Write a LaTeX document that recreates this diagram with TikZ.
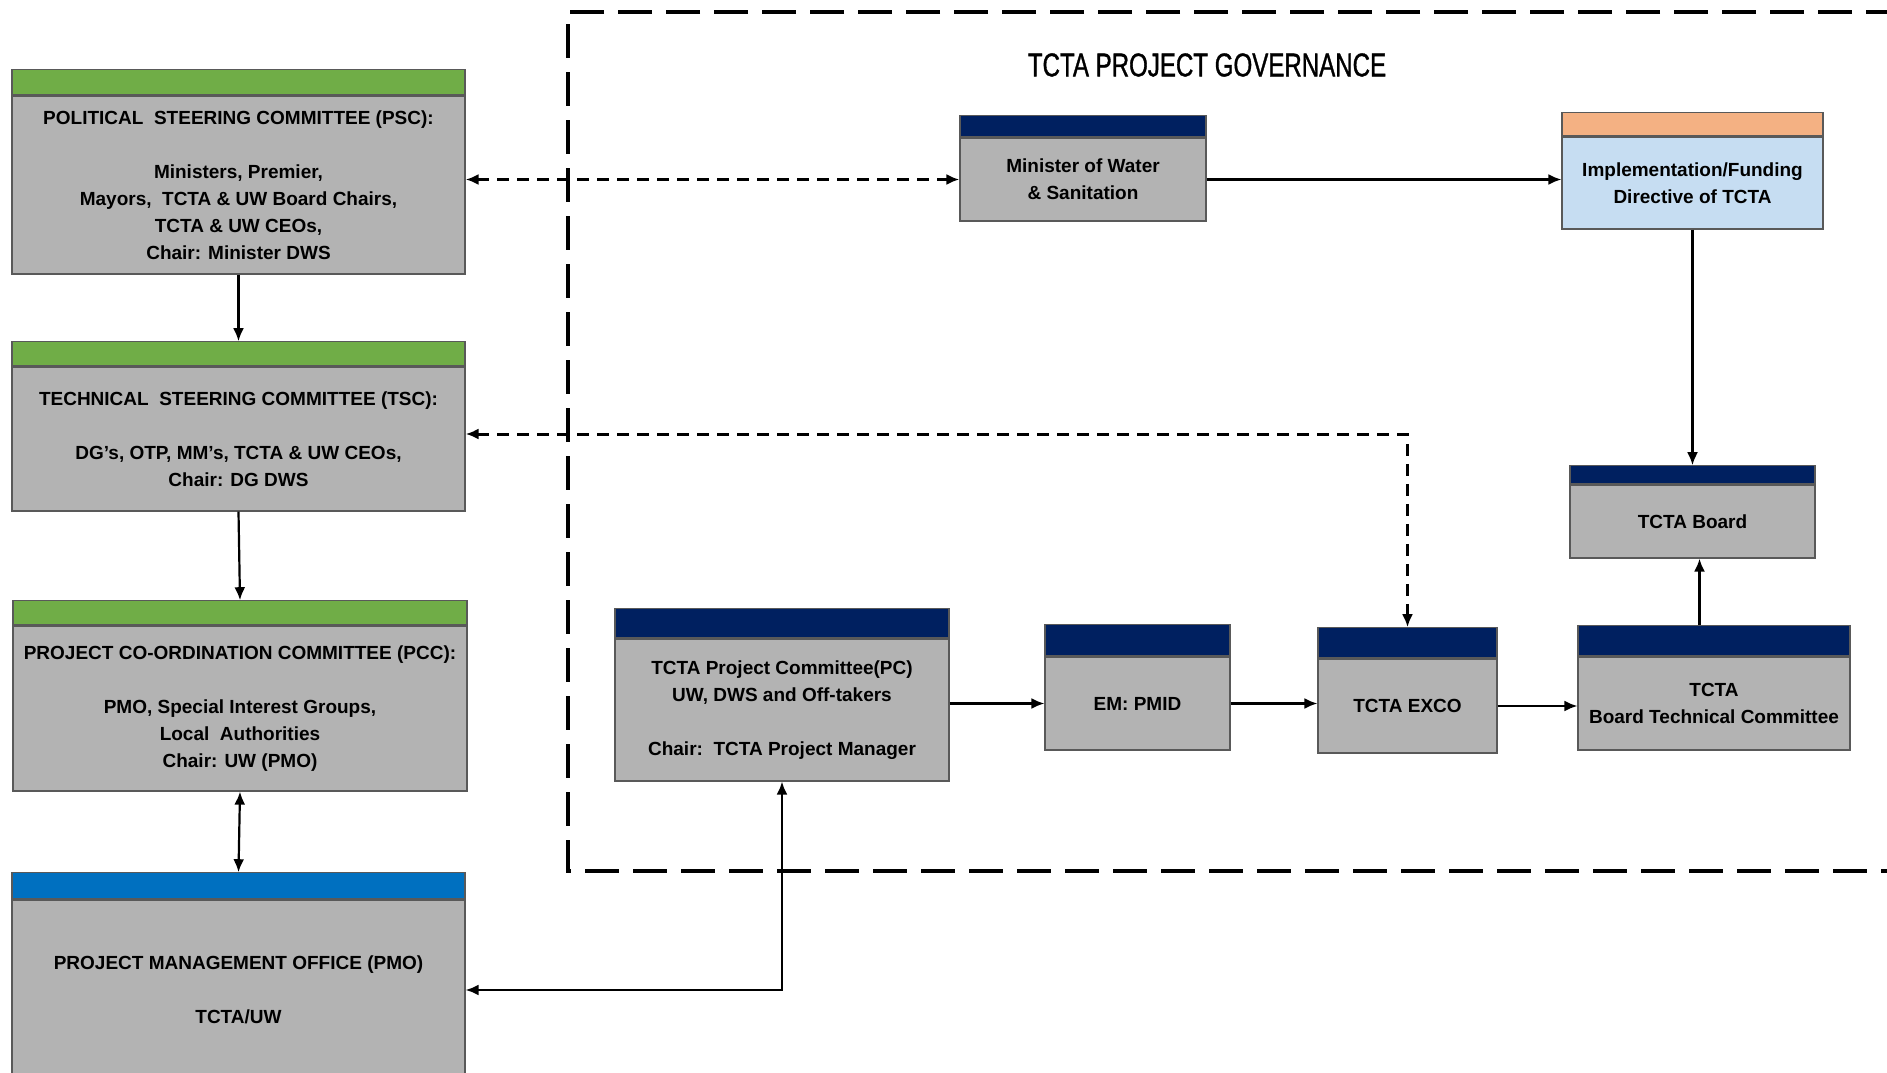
\documentclass[tikz,border=0pt]{standalone}
\usepackage{fontspec}
\setmainfont{Liberation Sans}
\newfontfamily\titlefont[FakeStretch=0.73,FakeBold=1]{Liberation Sans}
\usetikzlibrary{positioning,arrows.meta}
\definecolor{boxgray}{HTML}{B3B3B3}
\definecolor{barGreen}{HTML}{70AD47}
\definecolor{barNavy}{HTML}{002060}
\definecolor{barBlue}{HTML}{0070C0}
\definecolor{barOrange}{HTML}{F4B183}
\definecolor{implBlue}{HTML}{C6DDF2}

\tikzset{
	box/.style={draw=black!65, line width=1.2pt, fill=boxgray, align=center, inner sep=0pt,
		font=\fontsize{19}{27}\selectfont\bfseries},
	bar/.style={draw=black!65, line width=1.2pt, inner sep=0pt},
	link/.style={line width=2.2pt, -{Latex[length=13pt,width=11pt]}},
	dlink/.style={line width=3pt, dash pattern=on 12pt off 8pt, {Latex[length=13pt,width=11pt]}-{Latex[length=13pt,width=11pt]}},
	frame/.style={line width=4.5pt, dash pattern=on 34pt off 14pt}
}

\begin{document}
\begin{tikzpicture}[x=1pt, y=-1pt]
	\useasboundingbox (0,0) rectangle (1887,1072);
	\draw[frame] (1900,12) -- (568,12) -- (568,871) -- (1900,871);
	\node[font=\titlefont\fontsize{33}{33}\selectfont] (title) at (1207,65) {TCTA PROJECT GOVERNANCE};

	\node[box, minimum width=453pt, minimum height=178pt] (psc) at (238.5,185)
		{POLITICAL\ \ STEERING COMMITTEE (PSC):\\[27pt] Ministers, Premier,\\ Mayors,\ \ TCTA \& UW Board Chairs,\\ TCTA \& UW CEOs,\\ Chair: Minister DWS};
	\node[bar, fill=barGreen, minimum width=453pt, minimum height=25pt, above=0pt of psc] (psc-bar) {};
	\node[box, minimum width=453pt, minimum height=144pt] (tsc) at (238.5,439)
		{TECHNICAL\ \ STEERING COMMITTEE (TSC):\\[27pt] DG’s, OTP, MM’s, TCTA \& UW CEOs,\\ Chair: DG DWS};
	\node[bar, fill=barGreen, minimum width=453pt, minimum height=24pt, above=0pt of tsc] (tsc-bar) {};
	\node[box, minimum width=454pt, minimum height=165pt] (pcc) at (240,708.5)
		{PROJECT CO-ORDINATION COMMITTEE (PCC):\\[27pt] PMO, Special Interest Groups,\\ Local\ \ Authorities\\ Chair: UW (PMO)};
	\node[bar, fill=barGreen, minimum width=454pt, minimum height=24pt, above=0pt of pcc] (pcc-bar) {};
	\node[box, minimum width=453pt, minimum height=180pt] (pmo) at (238.5,990)
		{PROJECT MANAGEMENT OFFICE (PMO)\\[27pt] TCTA/UW};
	\node[bar, fill=barBlue, minimum width=453pt, minimum height=26pt, above=0pt of pmo] (pmo-bar) {};

	\node[box, minimum width=246pt, minimum height=83pt] (minister) at (1083,179.5) {Minister of Water\\ \& Sanitation};
	\node[bar, fill=barNavy, minimum width=246pt, minimum height=21pt, above=0pt of minister] (minister-bar) {};
	\node[box, fill=implBlue, minimum width=261pt, minimum height=92pt] (impl) at (1692.5,183) {Implementation/Funding\\ Directive of TCTA};
	\node[bar, fill=barOrange, minimum width=261pt, minimum height=23pt, above=0pt of impl] (impl-bar) {};
	\node[box, minimum width=245pt, minimum height=73pt] (board) at (1692.5,521.5) {TCTA Board};
	\node[bar, fill=barNavy, minimum width=245pt, minimum height=18pt, above=0pt of board] (board-bar) {};
	\node[box, minimum width=334pt, minimum height=142pt] (pc) at (782,710)
		{TCTA Project Committee(PC)\\ UW, DWS and Off-takers\\[27pt] Chair:\ \ TCTA Project Manager};
	\node[bar, fill=barNavy, minimum width=334pt, minimum height=29pt, above=0pt of pc] (pc-bar) {};
	\node[box, minimum width=185pt, minimum height=93pt] (em) at (1137.5,703.5) {EM: PMID};
	\node[bar, fill=barNavy, minimum width=185pt, minimum height=31pt, above=0pt of em] (em-bar) {};
	\node[box, minimum width=179pt, minimum height=94pt] (exco) at (1407.5,706) {TCTA EXCO};
	\node[bar, fill=barNavy, minimum width=179pt, minimum height=30pt, above=0pt of exco] (exco-bar) {};
	\node[box, minimum width=272pt, minimum height=93pt] (btc) at (1714,703.5) {TCTA\\ Board Technical Committee};
	\node[bar, fill=barNavy, minimum width=272pt, minimum height=30pt, above=0pt of btc] (btc-bar) {};

	\draw[link] (psc.south) -- (tsc-bar.north);
	\draw[link] (tsc.south) -- (pcc-bar.north);
	\draw[link, {Latex[length=13pt,width=11pt]}-{Latex[length=13pt,width=11pt]}] (pcc.south) -- (pmo-bar.north);
	\draw[dlink] (psc.east |- minister.west) -- (minister.west);
	\draw[dlink] ([yshift=5pt]tsc.east) -| (exco-bar.north);
	\draw[link] (minister.east) -- (impl.west |- minister.east);
	\draw[link] (impl.south) -- (board-bar.north);
	\draw[link] ([xshift=7pt]btc-bar.north -| board.south) -- ([xshift=7pt]board.south);
	\draw[link] (pc.east |- em.west) -- (em.west);
	\draw[link] (em.east) -- (exco.west |- em.east);
	\draw[link] (exco.east) -- (btc.west |- exco.east);
	\draw[link, {Latex[length=13pt,width=11pt]}-{Latex[length=13pt,width=11pt]}] (pmo.east) -| (pc.south);
\end{tikzpicture}
\end{document}
